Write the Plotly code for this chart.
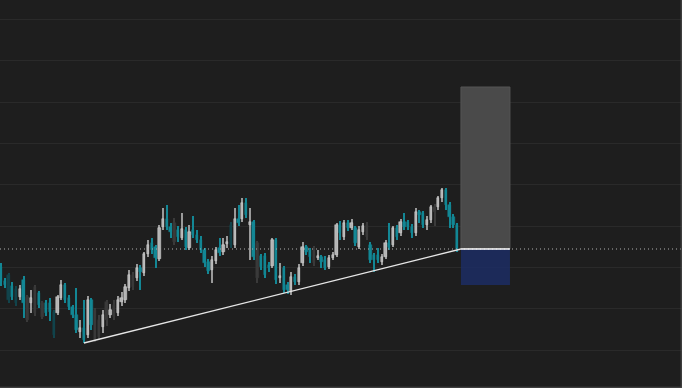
import plotly.graph_objects as go

# ---- candle data (price units) ----
opens = [121,107,113,102,99,91,108,68,85,75,95,71,85,85,76,75,90,103,90,81,
         73,56,60,53,88,48,51,61,68,73,71,75,86,88,100,101,110,120,115,134,
         145,141,129,161,169,161,146,158,150,158,140,158,153,148,138,126,118,127,140,136,
         144,163,143,169,169,185,163,166,110,132,132,123,122,148,110,120,103,96,111,106,
         125,141,138,125,130,131,128,121,130,133,163,151,165,160,160,141,156,151,143,133,
         133,126,131,145,143,160,155,166,166,161,155,176,175,163,168,176,181,190,198,183,
         171,163]
highs = [125,110,115,106,102,103,112,93,98,103,97,87,88,90,78,93,108,105,93,83,
         100,68,88,92,90,80,73,78,88,84,88,92,96,104,118,116,124,123,136,148,
         150,143,163,180,183,165,170,162,175,161,163,172,158,152,140,129,132,141,150,150,
         152,166,180,183,190,190,180,168,147,134,135,126,150,150,125,122,106,116,114,124,
         146,143,140,142,138,133,132,133,136,165,167,168,168,169,162,162,165,166,146,135,
         140,134,148,165,162,163,169,175,168,164,180,178,177,172,183,184,192,200,200,186,
         174,165]
lows = [102,100,85,88,82,88,70,66,75,72,80,69,72,67,50,73,88,85,78,70,
        55,50,45,50,58,46,49,55,62,70,68,72,82,85,97,98,107,98,112,131,
        134,120,127,158,158,150,143,146,148,138,138,150,145,135,121,114,105,124,132,133,
        140,140,140,162,166,170,128,128,105,118,110,116,120,104,105,95,94,93,103,103,
        122,133,125,122,128,120,118,119,128,131,148,148,157,158,142,139,153,148,125,116,
        125,123,129,138,141,148,152,158,158,150,152,165,160,158,165,162,178,186,178,160,
        160,136]
closes = [106,103,88,91,85,99,85,91,90,101,83,85,75,76,53,91,103,88,81,73,
          58,60,48,88,63,78,68,73,86,78,83,88,90,101,113,113,120,116,134,143,
          138,130,160,169,161,156,165,151,159,141,156,153,148,138,125,117,128,138,135,143,
          146,143,169,165,185,173,166,131,145,121,113,120,148,108,112,98,98,111,106,120,
          141,136,131,140,132,126,120,130,133,163,155,165,160,165,145,158,162,163,128,128,
          128,131,145,141,160,151,166,161,161,155,176,173,163,168,181,181,190,198,183,171,
          163,139]
dim_idx = [2,4,7,9,11,14,25,26,28,30,35,46,61,68,83,97,115]

# ---- trade setup ----
entry_price = 139
target_price = 301
stop_price = 103
box_start = 122
box_end = 135
trend_start_idx = 22
grid_base = 38
grid_step = 41.3

n = len(opens)
xs = list(range(n))

body_colors, body_lines, wick_colors = [], [], []
for i in range(n):
    up = closes[i] >= opens[i]
    dim = i in dim_idx
    if dim:
        c = "#3a3a3a" if up else "#12444c"
        body_colors.append(c); body_lines.append(c); wick_colors.append(c)
    elif up:
        body_colors.append("#b4b4b4"); body_lines.append("#d6d6d6"); wick_colors.append("#9a9a9a")
    else:
        body_colors.append("#138795"); body_lines.append("#138795"); wick_colors.append("#138795")

body_base = [min(o, c) for o, c in zip(opens, closes)]
body_h = [max(abs(c - o), 1.2) for o, c in zip(opens, closes)]
wick_base = lows
wick_h = [h - l for h, l in zip(highs, lows)]

fig = go.Figure()
fig.add_trace(go.Bar(x=xs, y=wick_h, base=wick_base, width=0.27,
                     marker=dict(color=wick_colors, line=dict(width=0)),
                     hoverinfo="skip", showlegend=False))
fig.add_trace(go.Bar(x=xs, y=body_h, base=body_base, width=0.62,
                     marker=dict(color=body_colors, line=dict(color=body_lines, width=0.5)),
                     hoverinfo="skip", showlegend=False))

# trend line
fig.add_trace(go.Scatter(x=[trend_start_idx, box_start], y=[lows[trend_start_idx], entry_price],
                         mode="lines", line=dict(color="#e6e6e6", width=1.3),
                         hoverinfo="skip", showlegend=False))

shapes = [
    dict(type="rect", xref="x", yref="y", x0=box_start, x1=box_end, y0=entry_price, y1=target_price,
         fillcolor="#4a4a4a", line=dict(color="#555555", width=1), layer="between"),
    dict(type="rect", xref="x", yref="y", x0=box_start, x1=box_end, y0=stop_price, y1=entry_price,
         fillcolor="rgba(28,44,98,0.88)", line=dict(width=0), layer="between"),
    dict(type="line", xref="paper", yref="y", x0=0, x1=1, y0=entry_price, y1=entry_price,
         line=dict(color="#b0b0b0", width=1, dash="1px,3px"), layer="above"),
    dict(type="line", xref="x", yref="y", x0=box_start, x1=box_end, y0=entry_price, y1=entry_price,
         line=dict(color="#ffffff", width=1.5), layer="above"),
    # frame edges (bottom and right)
    dict(type="line", xref="paper", yref="paper", x0=0, x1=1, y0=0.002, y1=0.002,
         line=dict(color="#4e4e4e", width=1), layer="above"),
    dict(type="line", xref="paper", yref="paper", x0=0.9988, x1=0.9988, y0=0, y1=1,
         line=dict(color="#4e4e4e", width=1), layer="above"),
]

x0 = -0.265
fig.update_layout(
    width=682, height=388,
    margin=dict(l=0, r=0, t=0, b=0),
    paper_bgcolor="#1e1e1e", plot_bgcolor="#1e1e1e",
    barmode="overlay", bargap=0,
    shapes=shapes,
    xaxis=dict(range=[x0, x0 + 682 / 3.77], showgrid=False, zeroline=False,
               showticklabels=False, showline=False, fixedrange=True),
    yaxis=dict(range=[0, 388], showgrid=True, gridcolor="#2a2a2a", gridwidth=1,
               tick0=grid_base, dtick=grid_step, zeroline=False,
               showticklabels=False, showline=False, fixedrange=True),
)
fig.write_html("out.html")
